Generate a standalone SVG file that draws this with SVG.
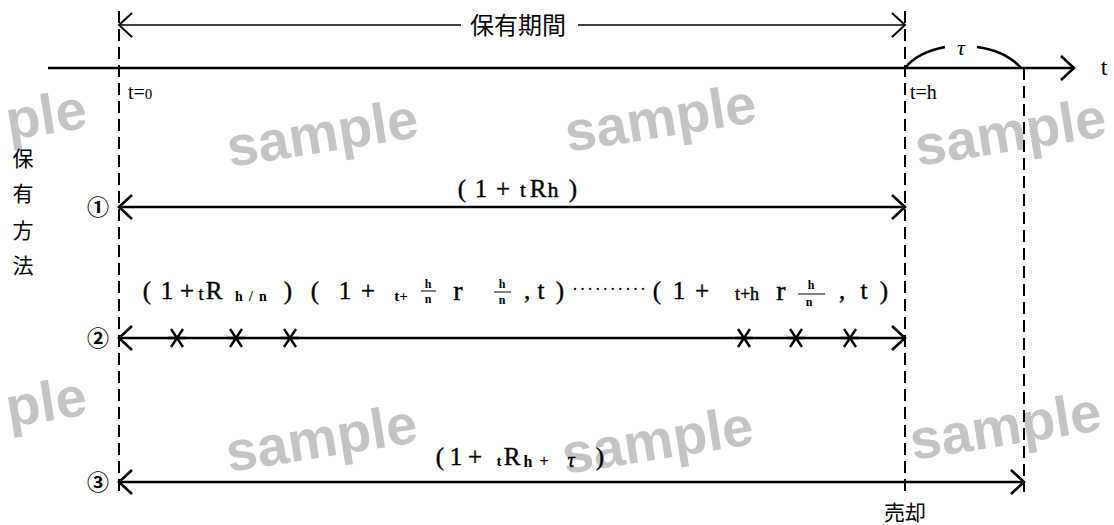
<svg xmlns="http://www.w3.org/2000/svg" width="1114" height="525" viewBox="0 0 1114 525">
<style>
.wm{font-family:"Liberation Sans",Arial,sans-serif;font-weight:bold;font-size:56px;fill:#c4c4c4}
.ln{stroke:#000;stroke-width:2.6;fill:none}
.thin{stroke:#000;stroke-width:1.6;fill:none}
.dash{stroke:#000;stroke-width:2;fill:none;stroke-dasharray:12 6}
.jp{font-family:"Noto Sans CJK JP","Noto Sans CJK SC",sans-serif;fill:#000}
.m{font-family:"Liberation Serif","Times New Roman",serif;fill:#000;text-anchor:middle;stroke:#000;stroke-width:0.4}
.b{font-family:"Liberation Serif","Times New Roman",serif;fill:#000;font-weight:bold;text-anchor:middle}
.circ{font-family:"Noto Sans CJK JP",sans-serif;font-size:22px;font-weight:bold;fill:#000;text-anchor:middle}
.ast{stroke:#000;stroke-width:2.4}
</style>
<defs>
<marker id="head" markerUnits="userSpaceOnUse" markerWidth="30" markerHeight="30" viewBox="-15 -15 30 30" refX="0" refY="0" orient="auto-start-reverse" overflow="visible">
<path d="M-13,-12 L0,0 L-13,12" fill="none" stroke="#000" stroke-width="2.6"/>
</marker>
<marker id="headThin" markerUnits="userSpaceOnUse" markerWidth="30" markerHeight="30" viewBox="-15 -15 30 30" refX="0" refY="0" orient="auto-start-reverse" overflow="visible">
<path d="M-13,-12 L0,0 L-13,12" fill="none" stroke="#000" stroke-width="2"/>
</marker>
</defs>
<rect width="1114" height="525" fill="#fff"/>

<g id="watermarks">
<text class="wm" x="9" y="140" transform="rotate(-9 9 140)">ple</text>
<text class="wm" x="230" y="167" transform="rotate(-9 230 167)">sample</text>
<text class="wm" x="568" y="152" transform="rotate(-9 568 152)">sample</text>
<text class="wm" x="918" y="166" transform="rotate(-9 918 166)">sample</text>
<text class="wm" x="9" y="427" transform="rotate(-9 9 427)">ple</text>
<text class="wm" x="229" y="472" transform="rotate(-9 229 472)">sample</text>
<text class="wm" x="565" y="474" transform="rotate(-9 565 474)">sample</text>
<text class="wm" x="913" y="460" transform="rotate(-9 913 460)">sample</text>
</g>

<g id="guides">
<line class="dash" x1="119" y1="11" x2="119" y2="492"/>
<line class="dash" x1="905" y1="11" x2="905" y2="492"/>
<line class="dash" x1="1024" y1="68" x2="1024" y2="492"/>
</g>

<g id="connectors">
<line class="ln" x1="48" y1="68" x2="1074" y2="68" marker-end="url(#head)"/>
<line class="thin" x1="119" y1="25" x2="461" y2="25" marker-start="url(#headThin)"/>
<line class="thin" x1="578" y1="25" x2="905" y2="25" marker-end="url(#headThin)"/>
<path class="ln" d="M905,68 Q918,52 945,47" stroke-width="2"/>
<path class="ln" d="M977,47 Q1006,51 1021,68" stroke-width="2"/>
<line class="ln" x1="119" y1="207" x2="905" y2="207" marker-start="url(#head)" marker-end="url(#head)"/>
<line class="ln" x1="119" y1="338" x2="905" y2="338" marker-start="url(#head)" marker-end="url(#head)"/>
<line class="ln" x1="119" y1="482" x2="1024" y2="482" marker-start="url(#head)" marker-end="url(#head)"/>
</g>

<g id="asterisks">
<path class="ast" d="M171,329 L183,347 M183,329 L171,347 M168,338 L186,338"/>
<path class="ast" d="M230,329 L242,347 M242,329 L230,347 M227,338 L245,338"/>
<path class="ast" d="M284,329 L296,347 M296,329 L284,347 M281,338 L299,338"/>
<path class="ast" d="M738,329 L750,347 M750,329 L738,347 M735,338 L753,338"/>
<path class="ast" d="M790,329 L802,347 M802,329 L790,347 M787,338 L805,338"/>
<path class="ast" d="M844,329 L856,347 M856,329 L844,347 M841,338 L859,338"/>
</g>

<g id="axis-labels">
<text class="jp" x="518" y="34" font-size="24" text-anchor="middle">保有期間</text>
<text x="1104" y="75" font-family="Liberation Serif,serif" font-size="24" text-anchor="middle">t</text>
<text x="961" y="55" font-family="Liberation Serif,serif" font-size="22" font-style="italic" text-anchor="middle">τ</text>
<text x="128" y="99" font-family="Liberation Serif,serif" font-size="20">t=<tspan font-size="15">0</tspan></text>
<text x="910" y="99" font-family="Liberation Serif,serif" font-size="20">t=h</text>
<g id="method-label" class="jp" font-size="21" text-anchor="middle">
<text x="23" y="166">保</text>
<text x="23" y="201">有</text>
<text x="23" y="238">方</text>
<text x="23" y="273">法</text>
</g>
<text class="jp" x="905" y="520" font-size="21" text-anchor="middle">売却</text>
</g>

<g id="row1" style="font-size:25px">
<text class="circ" x="98" y="215">①</text>
<text class="m" x="462" y="197">(</text>
<text class="m" x="481" y="197">1</text>
<text class="m" x="503" y="197">+</text>
<text class="m" x="523" y="197" style="font-size:21px">t</text>
<text class="m" x="538" y="197">R</text>
<text class="m" x="553" y="197" style="font-size:22px">h</text>
<text class="m" x="573" y="197">)</text>
</g>

<g id="row2" style="font-size:25px">
<text class="circ" x="98" y="346">②</text>
<text class="m" x="147" y="299">(</text>
<text class="m" x="167" y="299">1</text>
<text class="m" x="187" y="299">+</text>
<text class="m" x="201" y="300" style="font-size:18px">t</text>
<text class="m" x="214" y="299">R</text>
<text class="b" x="239" y="301" style="font-size:14px">h</text>
<text class="b" x="251" y="301" style="font-size:14px">/</text>
<text class="b" x="263" y="301" style="font-size:14px">n</text>
<text class="m" x="288" y="299">)</text>
<text class="m" x="315" y="299">(</text>
<text class="m" x="345" y="299">1</text>
<text class="m" x="368" y="299">+</text>
<text class="b" x="401" y="301" style="font-size:15px">t+</text>
<text class="b" x="428" y="288" style="font-size:12px">h</text>
<line x1="421" y1="291" x2="436" y2="291" stroke="#000" stroke-width="1"/>
<text class="b" x="428" y="303" style="font-size:12px">n</text>
<text class="m" x="458" y="300" style="font-size:28px">r</text>
<text class="b" x="502" y="288" style="font-size:12px">h</text>
<line x1="494" y1="292" x2="511" y2="292" stroke="#000" stroke-width="1"/>
<text class="b" x="502" y="304" style="font-size:12px">n</text>
<text class="m" x="527" y="299">,</text>
<text class="m" x="541" y="299">t</text>
<text class="m" x="560" y="299">)</text>
<text x="572" y="295" font-family="Liberation Serif,serif" font-size="18" textLength="74" lengthAdjust="spacing">··········</text>
<text class="m" x="657" y="299">(</text>
<text class="m" x="679" y="299">1</text>
<text class="m" x="702" y="299">+</text>
<text class="m" x="747" y="300" style="font-size:18px">t+h</text>
<text class="m" x="781" y="300" style="font-size:28px">r</text>
<text class="b" x="811" y="289" style="font-size:12px">h</text>
<line x1="798" y1="294" x2="825" y2="294" stroke="#000" stroke-width="1"/>
<text class="b" x="809" y="306" style="font-size:12px">n</text>
<text class="m" x="842" y="299">,</text>
<text class="m" x="864" y="299">t</text>
<text class="m" x="884" y="299">)</text>
</g>

<g id="row3" style="font-size:25px">
<text class="circ" x="98" y="490">③</text>
<text class="m" x="440" y="465">(</text>
<text class="m" x="456" y="465">1</text>
<text class="m" x="475" y="465">+</text>
<text class="b" x="499" y="466" style="font-size:15px">t</text>
<text class="m" x="512" y="465">R</text>
<text class="b" x="528" y="467" style="font-size:16px">h</text>
<text class="b" x="544" y="467" style="font-size:17px">+</text>
<text class="m" x="571" y="467" style="font-size:20px;font-style:italic">τ</text>
<text class="m" x="600" y="465">)</text>
</g>
</svg>
